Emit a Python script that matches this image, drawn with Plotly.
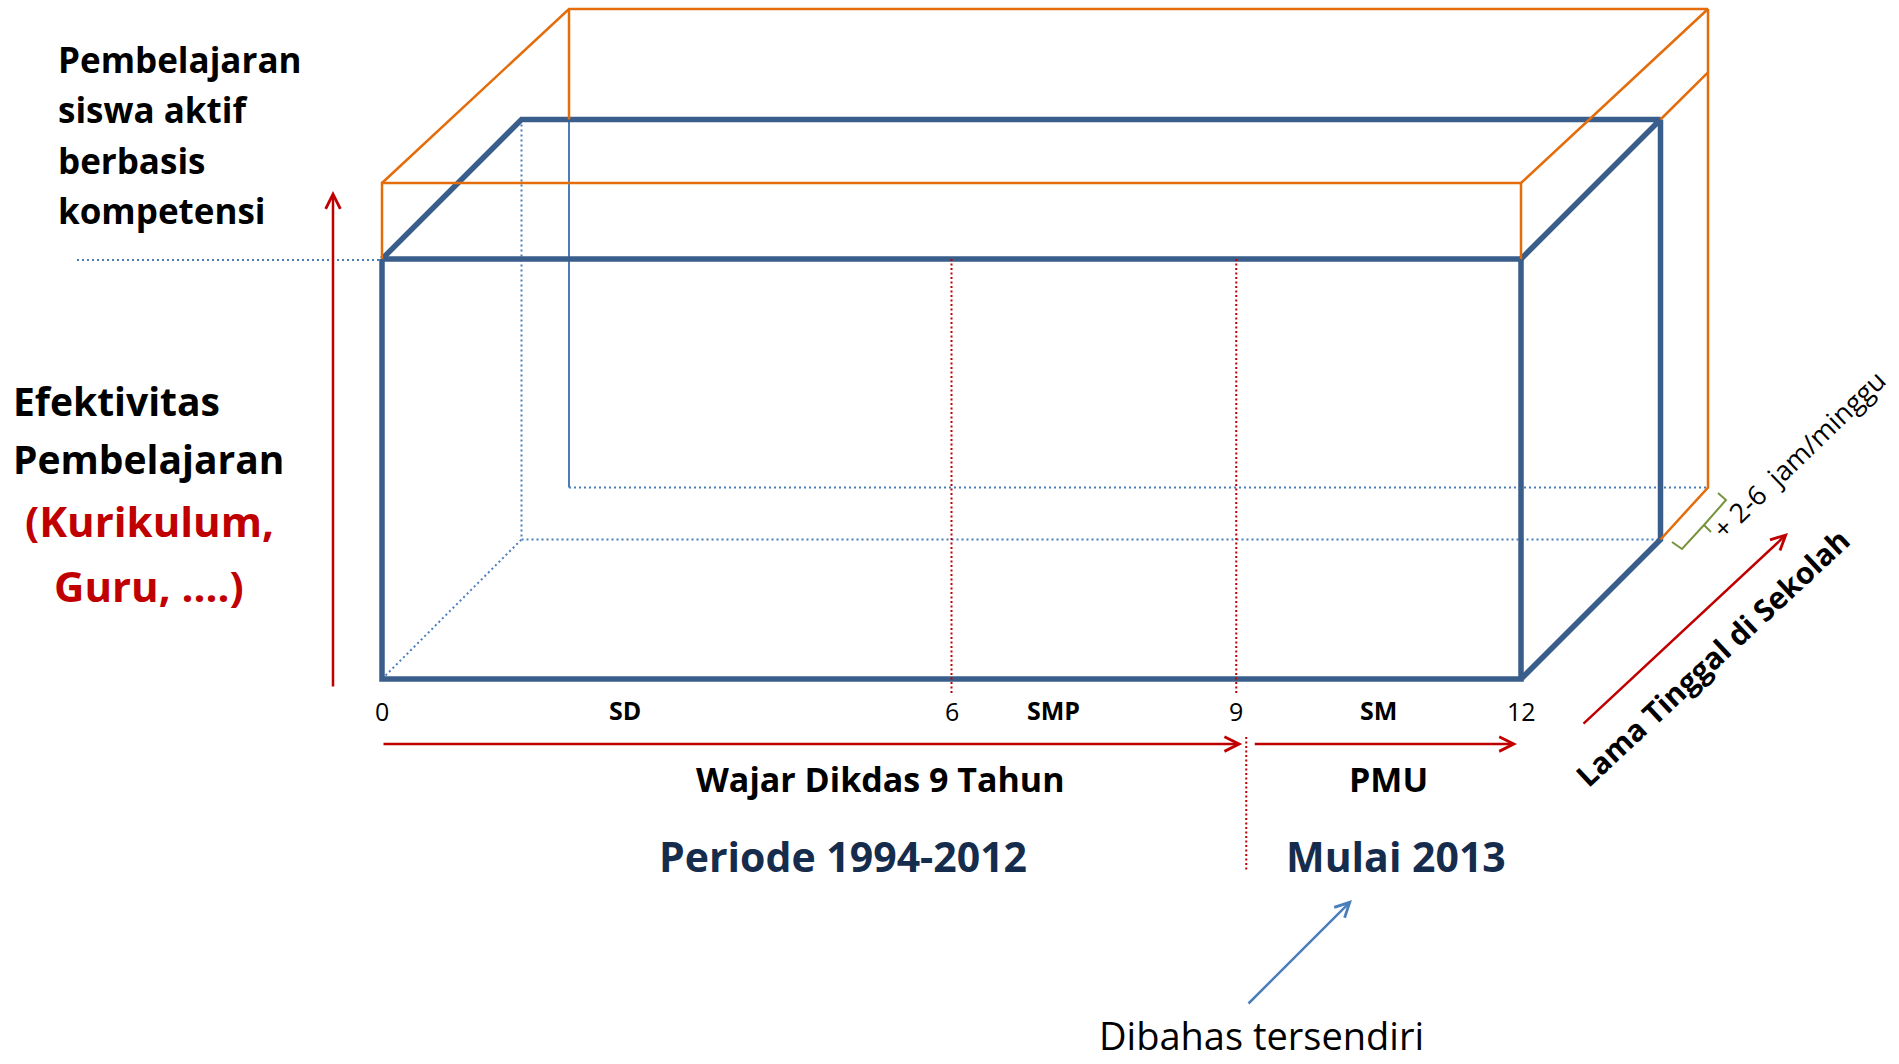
import plotly.graph_objects as go

# ---------------- data ----------------
years = [0, 6, 9, 12]
year_labels = ["0", "6", "9", "12"]
levels = ["SD", "SMP", "SM"]
programs = ["Wajar Dikdas 9 Tahun", "PMU"]
program_periods = ["Periode 1994-2012", "Mulai 2013"]
top_note_lines = ["Pembelajaran", "siswa aktif", "berbasis", "kompetensi"]
y_title_lines = ["Efektivitas", "Pembelajaran"]
y_sub_lines = ["(Kurikulum,", "Guru, ....)"]
depth_title = "Lama Tinggal di Sekolah"
extra_hours = "+ 2-6  jam/minggu"
side_note = "Dibahas tersendiri"

# ---------------- layout geometry (pixels of the page) ----------------
W, H = 1899, 1064
FX0, FX1 = 382, 1521          # front face x extent (year 0 .. 12)
FY_TOP, FY_BOT = 259, 679     # front face y extent
DX, DY = 139.5, -139.5        # depth offset of the blue box
OY_TOP = 183                  # orange (extended) front top
ODX, ODY = 187, -174          # depth offset of the orange box
EXT_BOT = 487.5               # bottom of the extended back face
FONT = "Open Sans"

BLUE = "#3A5E8C"
LBLUE = "#4A7EBB"
ORANGE = "#E46C0A"
RED = "#C00000"
GREEN = "#77933C"
NAVY = "#162C4C"


def year_x(y):
    return FX0 + y * (FX1 - FX0) / years[-1]


BX0, BX1 = FX0 + DX, FX1 + DX
BY_TOP, BY_BOT = FY_TOP + DY, FY_BOT + DY
OX0, OX1 = FX0 + ODX, FX1 + ODX
OY_BACK = OY_TOP + ODY

fig = go.Figure()


def add_lines(paths, color, width, dash="solid"):
    xs, ys = [], []
    for p in paths:
        for (x, y) in p:
            xs.append(x)
            ys.append(y)
        xs.append(None)
        ys.append(None)
    fig.add_trace(go.Scatter(x=xs, y=ys, mode="lines",
                             line=dict(color=color, width=width, dash=dash),
                             hoverinfo="skip", showlegend=False))


# hidden (dotted) edges of the blue box
add_lines([
    [(77, FY_TOP + 1), (FX0 + 18, FY_TOP + 1)],
    [(BX0, BY_TOP), (BX0, BY_BOT)],
    [(BX0, BY_BOT), (BX1, BY_BOT)],
    [(FX0, FY_BOT), (BX0, BY_BOT)],
    [(OX0, EXT_BOT), (OX1, EXT_BOT)],
], LBLUE, 2, "2px,3px")

# thin solid blue vertical of the extended back face
add_lines([[(OX0, BY_TOP), (OX0, EXT_BOT)]], LBLUE, 2)

# thick blue box
add_lines([
    [(FX0, FY_TOP), (FX1, FY_TOP), (FX1, FY_BOT), (FX0, FY_BOT), (FX0, FY_TOP)],
    [(FX0, FY_TOP), (BX0, BY_TOP), (BX1, BY_TOP), (FX1, FY_TOP)],
    [(BX1, BY_TOP), (BX1, BY_BOT), (FX1, FY_BOT)],
], BLUE, 5.5)

# orange extended box
add_lines([
    [(FX0, FY_TOP), (FX0, OY_TOP), (FX1, OY_TOP), (FX1, FY_TOP)],
    [(FX0, OY_TOP), (OX0, OY_BACK), (OX1, OY_BACK), (FX1, OY_TOP)],
    [(OX0, OY_BACK), (OX0, BY_TOP)],
    [(OX1, OY_BACK), (OX1, EXT_BOT), (BX1, BY_BOT)],
    [(BX1, BY_TOP), (OX1, BY_TOP + (OX1 - BX1) * -0.99)],
], ORANGE, 2.5)

# red dotted separators at stage boundaries
sep = [[(year_x(y), FY_TOP), (year_x(y), 693)] for y in years[1:-1]]
DIV_X = year_x(9) + 10
sep.append([(DIV_X, 737), (DIV_X, 872)])
add_lines(sep, RED, 2, "2px,2.5px")

# green brace for the extra hours
add_lines([
    [(1672, 542), (1682, 549), (1704, 525), (1726, 500), (1718, 493)],
    [(1704, 525), (1711, 532)],
], GREEN, 2)

ann = []


def arrow(x0, y0, x1, y1, color):
    ann.append(dict(x=x1, y=y1, ax=x0, ay=y0, xref="x", yref="y", axref="x", ayref="y",
                    text="", showarrow=True, arrowhead=5, arrowsize=1.15,
                    arrowwidth=2.5, arrowcolor=color, standoff=0, startstandoff=0))


arrow(333, 688, 333, 191, RED)
arrow(FX0, 744, DIV_X - 4, 744, RED)
arrow(DIV_X + 7, 744, FX1 - 4, 744, RED)
arrow(1582, 725, 1788, 533, RED)
arrow(1247, 1005, 1352, 900, LBLUE)


def text(s, x, y, size, color="#000000", bold=False, xanchor="center", angle=0):
    ann.append(dict(x=x, y=y, xref="x", yref="y", text=("<b>%s</b>" % s) if bold else s,
                    showarrow=False, xanchor=xanchor, yanchor="middle", textangle=angle,
                    font=dict(family=FONT, size=size, color=color)))


for i, s in enumerate(top_note_lines):
    text(s, 56, 59 + i * 50.5, 35, bold=True, xanchor="left")
for i, s in enumerate(y_title_lines):
    text(s, 11, 400 + i * 58, 39, bold=True, xanchor="left")
for i, s in enumerate(y_sub_lines):
    text(s, 149, 520 + i * 65, 42, color=RED, bold=True)

for y, lab in zip(years, year_labels):
    text(lab, year_x(y), 711, 25)
level_label_x = [625, 1053, 1378]
for lab, x in zip(levels, level_label_x):
    text(lab, x, 710, 25, bold=True)

program_x = [880, 1388]
for lab, x in zip(programs, program_x):
    text(lab, x, 779, 34, bold=True)
period_x = [843, 1396]
for lab, x in zip(program_periods, period_x):
    text(lab, x, 856, 41, color=NAVY, bold=True)

text(side_note, 1261, 1035, 38)
text(depth_title, 1712, 657, 30, bold=True, angle=-43)
text(extra_hours, 1798, 454, 27, angle=-44)

fig.update_layout(
    width=W, height=H, margin=dict(l=0, r=0, t=0, b=0),
    paper_bgcolor="white", plot_bgcolor="white",
    xaxis=dict(range=[0, W], visible=False, fixedrange=True),
    yaxis=dict(range=[H, 0], visible=False, fixedrange=True),
    annotations=ann, showlegend=False,
)

fig.write_html("out.html", config={"displayModeBar": False},
               post_script="document.body.style.margin='0';document.body.style.overflow='hidden';")
